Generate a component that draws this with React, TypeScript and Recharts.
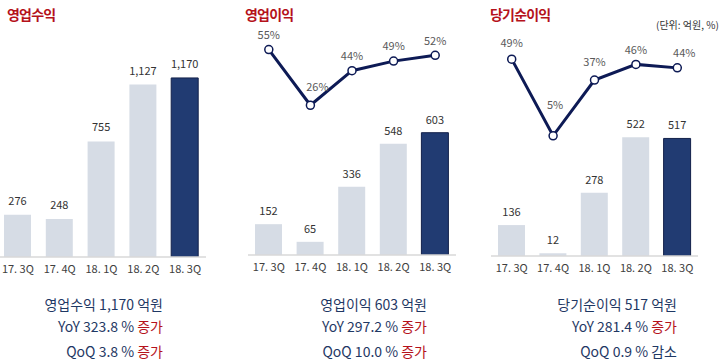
import { ComposedChart, Bar, Line, XAxis, YAxis, Cell, LabelList } from "recharts"

const quarters = ["17. 3Q", "17. 4Q", "18. 1Q", "18. 2Q", "18. 3Q"]
const revenue = [276, 248, 755, 1127, 1170]
const opProfit = [152, 65, 336, 548, 603]
const opMargin = [55, 26, 44, 49, 52]
const netProfit = [136, 12, 278, 522, 517]
const netMargin = [49, 5, 37, 46, 44]

const FONT = "'Noto Sans CJK KR', 'Noto Sans', sans-serif"
const NAVY = "#1F3864"
const RED = "#B5121B"
const BAR_LIGHT = "#D6DCE5"
const BAR_DARK = "#213B72"
const LINE = "#0D1A55"

// label placement tweaks for the % labels (lift above point, shift right)
const opLabelPos = { lift: [14, 18, 15, 15, 14], dx: [0, 7, 0, 0, 0] }
const netLabelPos = { lift: [16, 31, 18, 14, 15], dx: [0, 2, 0, 0, 7] }

const fmt = (v: any) => Number(v).toLocaleString("en-US")

function pctLabel(pos: { lift: number[]; dx: number[] }) {
  return (p: any) => {
    const i = p.index
    return (
      <text
        x={p.x + pos.dx[i]}
        y={p.y - pos.lift[i]}
        dy="0.35em"
        textAnchor="middle"
        fill="#595959"
        fontSize={11}
      >
        {p.value}%
      </text>
    )
  }
}

function Panel(props: {
  left: number
  width: number
  axisH: number
  bars: number[]
  barMax: number
  labelOffset: number
  line?: number[]
  lineDomain?: [number, number]
  labelPos?: { lift: number[]; dx: number[] }
}) {
  const data = quarters.map((q, i) => ({
    q,
    v: props.bars[i],
    p: props.line ? props.line[i] : null
  }))

  return (
    <div style={{ position: "absolute", left: props.left, top: 0 }}>
      <ComposedChart
        width={props.width}
        height={300}
        data={data}
        margin={{ top: 40, right: 0, bottom: 0, left: 0 }}
        style={{ overflow: "visible" }}
      >
        <XAxis
          dataKey="q"
          height={props.axisH}
          tickLine={false}
          axisLine={{ stroke: "#D9D9D9", strokeWidth: 1.5 }}
          tick={{ fill: "#404040", fontSize: 11 }}
          interval={0}
        />
        <YAxis yAxisId="l" hide domain={[0, props.barMax]} allowDataOverflow />
        <YAxis
          yAxisId="r"
          hide
          orientation="right"
          domain={props.lineDomain || [0, 100]}
          allowDataOverflow
        />
        <Bar yAxisId="l" dataKey="v" barSize={27} isAnimationActive={false}>
          {data.map((d, i) => (
            <Cell
              key={d.q}
              fill={i === data.length - 1 ? BAR_DARK : BAR_LIGHT}
              stroke={i === data.length - 1 ? "#13214A" : "none"}
            />
          ))}
          <LabelList
            dataKey="v"
            position="top"
            offset={props.labelOffset}
            formatter={fmt}
            style={{ fill: "#333333", fontSize: 11 }}
          />
        </Bar>
        {props.line && (
          <Line
            yAxisId="r"
            dataKey="p"
            stroke={LINE}
            strokeWidth={3}
            dot={{ r: 4, fill: "#ffffff", stroke: LINE, strokeWidth: 1.5 }}
            isAnimationActive={false}
          >
            <LabelList dataKey="p" content={pctLabel(props.labelPos!)} />
          </Line>
        )}
      </ComposedChart>
    </div>
  )
}

function Summary(props: { right: number; lines: { text: string; word: string; red: boolean }[] }) {
  const tops = [295, 317, 342]
  return (
    <>
      {props.lines.map((l, i) => (
        <div
          key={l.text}
          style={{
            position: "absolute",
            left: props.right - 220,
            width: 220,
            top: tops[i],
            textAlign: "right",
            fontSize: 14,
            lineHeight: "18px",
            color: NAVY,
            whiteSpace: "pre"
          }}
        >
          {l.text}
          <span style={{ color: l.red ? RED : NAVY }}>{l.word}</span>
        </div>
      ))}
    </>
  )
}

const titleStyle = {
  position: "absolute" as const,
  top: 4,
  fontSize: 14,
  letterSpacing: -0.8,
  fontWeight: 700,
  color: RED
}

export default function App() {
  return (
    <div
      style={{
        position: "absolute",
        left: 0,
        top: 0,
        width: 720,
        height: 360,
        background: "#ffffff",
        fontFamily: FONT,
        overflow: "hidden"
      }}
    >
      <div style={{ ...titleStyle, left: 7 }}>영업수익</div>
      <div style={{ ...titleStyle, left: 245 }}>영업이익</div>
      <div style={{ ...titleStyle, left: 490 }}>당기순이익</div>
      <div style={{ position: "absolute", left: 656, top: 17, fontSize: 10, color: "#333333" }}>
        (단위: 억원, %)
      </div>

      <Panel left={-3} width={209} axisH={43} bars={revenue} barMax={1418} labelOffset={10} />
      <Panel
        left={248}
        width={208}
        axisH={45}
        bars={opProfit}
        barMax={1060}
        labelOffset={9}
        line={opMargin}
        lineDomain={[-52, 60]}
        labelPos={opLabelPos}
      />
      <Panel
        left={491}
        width={207}
        axisH={44}
        bars={netProfit}
        barMax={950}
        labelOffset={9}
        line={netMargin}
        lineDomain={[-64, 60]}
        labelPos={netLabelPos}
      />

      <Summary
        right={163}
        lines={[
          { text: "영업수익 1,170 억원", word: "", red: false },
          { text: "YoY 323.8 % ", word: "증가", red: true },
          { text: "QoQ 3.8 % ", word: "증가", red: true }
        ]}
      />
      <Summary
        right={427}
        lines={[
          { text: "영업이익 603 억원", word: "", red: false },
          { text: "YoY 297.2 % ", word: "증가", red: true },
          { text: "QoQ 10.0 % ", word: "증가", red: true }
        ]}
      />
      <Summary
        right={677}
        lines={[
          { text: "당기순이익 517 억원", word: "", red: false },
          { text: "YoY 281.4 % ", word: "증가", red: true },
          { text: "QoQ 0.9 % ", word: "감소", red: false }
        ]}
      />
    </div>
  )
}
